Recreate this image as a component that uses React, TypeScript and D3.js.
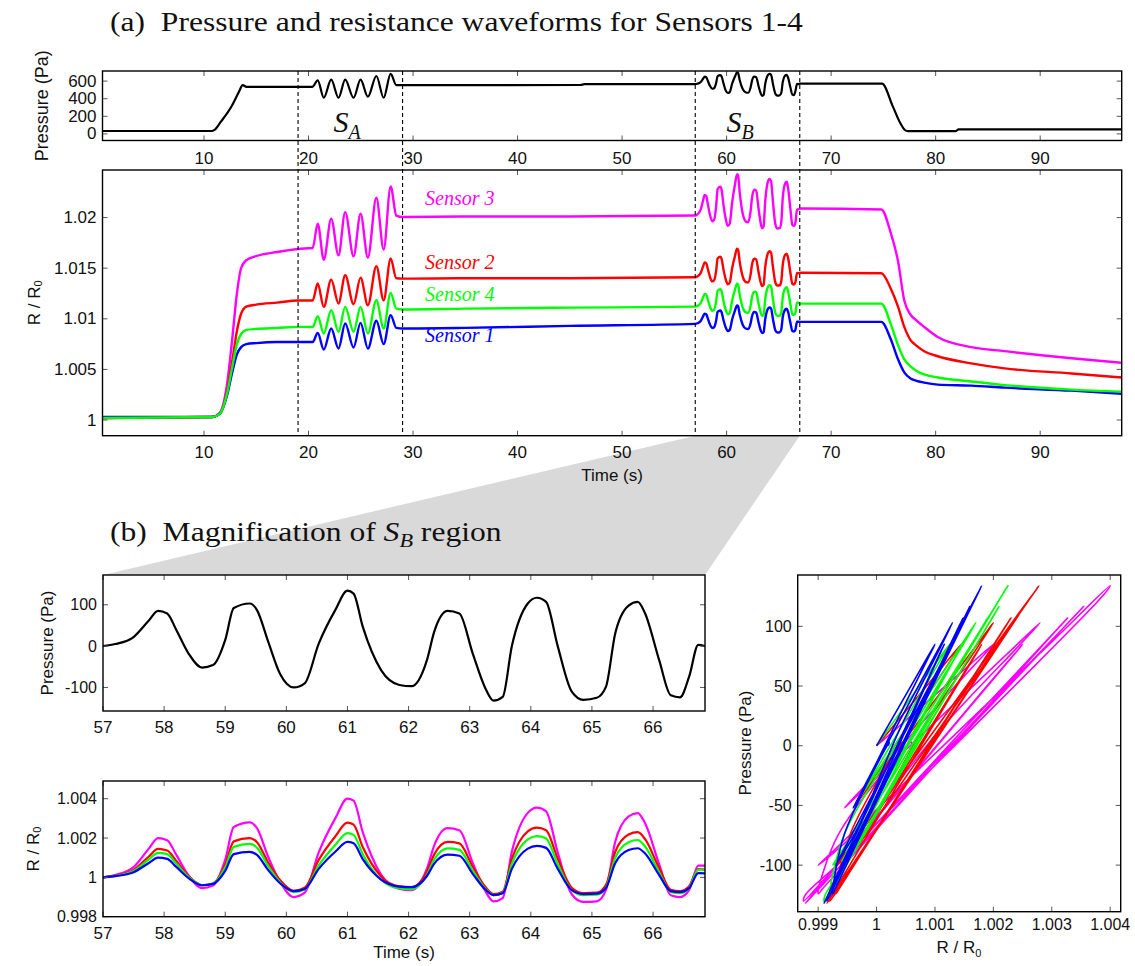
import React from "react";
import * as d3 from "d3";

// ================= DATA =================
// (a) top panel: pressure (Pa) vs time (s), outside the S_B window
const pressPreT = [0.3, 10.75, 11.0, 11.6, 12.67, 13.37, 13.7, 14.07, 20.35, 20.88, 21.46, 22.17, 22.87, 23.51, 24.31, 24.98, 25.68, 26.49, 27.19, 27.86, 28.4, 29, 46, 46.4];
const pressPreP = [33, 33, 45, 136, 320, 485, 555, 534, 534, 608, 411, 616, 411, 616, 411, 616, 423, 658, 411, 682, 555, 555, 556, 565];
const pressPostT = [67.0, 74.87, 75.9, 76.6, 77.1, 77.4, 81.9, 82.2, 97.8];
const pressPostP = [571, 571, 313, 127, 40, 31, 31, 52, 52];
const sbPressureLevel = 565;

// (a) main panel: R/R0 per sensor outside the S_B window
const rPreT = [0.3, 10.8, 11.5, 12.2, 12.7, 13.15, 13.55, 14.05, 15, 17, 19, 20.4, 20.88, 21.46, 22.17, 22.87, 23.51, 24.31, 24.98, 25.68, 26.49, 27.19, 27.86, 28.4, 29, 35, 45];
const s1Pre = [1.0003, 1.0003, 1.0006, 1.0024, 1.0047, 1.0065, 1.0072, 1.0075, 1.0076, 1.0077, 1.0077, 1.0077, 1.00861, 1.00697, 1.00904, 1.00707, 1.00954, 1.00717, 1.0096, 1.00707, 1.0098, 1.0075, 1.01036, 1.0091, 1.00904, 1.0091, 1.0093];
const s2Pre = [1.0002, 1.0003, 1.0006, 1.0028, 1.0058, 1.0088, 1.0105, 1.0112, 1.0114, 1.0116, 1.0118, 1.0118, 1.01348, 1.01118, 1.01387, 1.01151, 1.0143, 1.01144, 1.01407, 1.01134, 1.01519, 1.01183, 1.01595, 1.014, 1.01397, 1.014, 1.014];
const s3Pre = [1.0002, 1.0003, 1.0007, 1.0035, 1.008, 1.0125, 1.015, 1.0158, 1.0162, 1.0166, 1.0169, 1.017, 1.0194, 1.01584, 1.01988, 1.01627, 1.02054, 1.01617, 1.02038, 1.01605, 1.02196, 1.01684, 1.02308, 1.0202, 1.02005, 1.0201, 1.0201];
const s4Pre = [1.0002, 1.0003, 1.0006, 1.0026, 1.0052, 1.0075, 1.0085, 1.0089, 1.009, 1.0091, 1.0092, 1.0092, 1.01026, 1.00855, 1.01085, 1.00871, 1.01118, 1.00871, 1.01118, 1.00855, 1.01183, 1.00904, 1.01256, 1.011, 1.01092, 1.011, 1.0111];

const rPostT = [67.1, 74.8, 75.7, 76.4, 77.0, 77.6, 78.1, 78.9, 80.2, 83.4, 86.6, 93, 97.8];
const s1Post = [1.0097, 1.0097, 1.008, 1.006, 1.0047, 1.0041, 1.0039, 1.0037, 1.0035, 1.0034, 1.0032, 1.0029, 1.0026];
const s2Post = [1.01455, 1.0145, 1.013, 1.0112, 1.0092, 1.0079, 1.0074, 1.0068, 1.0063, 1.0056, 1.0051, 1.0046, 1.0042];
const s3Post = [1.0209, 1.0208, 1.0185, 1.0157, 1.0118, 1.0104, 1.0099, 1.0092, 1.0082, 1.0072, 1.0068, 1.0061, 1.00565];
const s4Post = [1.0115, 1.0115, 1.0095, 1.0074, 1.006, 1.0053, 1.0049, 1.0045, 1.0042, 1.0038, 1.00345, 1.003, 1.0028];

// R/R0 of each sensor at t = 57 s (start of S_B), sensors 1..4
const sbBaseline = [1.0095, 1.0141, 1.0202, 1.0112];

// (b) magnified S_B region
const sbT = [57.0, 57.2, 57.5, 57.75, 57.9, 58.05, 58.2, 58.4, 58.62, 58.8, 59.0, 59.14, 59.4, 59.52, 59.7, 59.9, 60.12, 60.3, 60.53, 60.8, 61.0, 61.1, 61.25, 61.55, 61.85, 62.05, 62.3, 62.42, 62.64, 62.83, 63.05, 63.25, 63.39, 63.54, 63.69, 63.95, 64.1, 64.25, 64.44, 64.67, 64.86, 65.08, 65.23, 65.38, 65.6, 65.75, 65.87, 66.1, 66.29, 66.44, 66.59, 66.74, 66.85];
const sbP = [0, 5, 22, 62, 85, 79, 39, -18, -52, -46, 15, 92, 103, 87, 12, -68, -100, -90, 6, 87, 134, 127, 47, -58, -94, -97, -34, 35, 85, 79, -18, -100, -132, -123, 0, 103, 117, 107, 0, -110, -130, -125, -98, 30, 98, 107, 79, -34, -119, -124, -74, 3, 0];
const sbS1 = [1.0, 1.00006, 1.00026, 1.00073, 1.001, 1.00094, 1.00053, 0.99996, 0.9996, 0.99967, 1.00033, 1.00118, 1.0013, 1.00114, 1.00038, 0.99969, 0.9993, 0.99941, 1.00043, 1.0013, 1.0018, 1.00173, 1.00093, 0.99989, 0.99953, 0.9995, 1.00007, 1.0007, 1.00116, 1.0011, 1.00018, 0.9994, 0.9991, 0.99919, 1.00043, 1.00146, 1.0016, 1.0015, 1.00044, 0.99935, 0.99915, 0.99917, 0.99946, 1.00072, 1.00139, 1.00148, 1.00121, 1.00012, 0.9993, 0.99925, 0.99945, 1.00022, 1.0002];
const sbS2 = [1.0, 1.00009, 1.00038, 1.00106, 1.00145, 1.00137, 1.00083, 1.00007, 0.9996, 0.99969, 1.00064, 1.00183, 1.002, 1.00179, 1.00077, 0.99985, 0.99932, 0.99947, 1.00089, 1.00208, 1.00278, 1.00268, 1.00154, 1.00005, 0.99954, 0.9995, 1.0003, 1.00117, 1.0018, 1.00173, 1.00054, 0.99954, 0.99915, 0.99927, 1.00094, 1.00234, 1.00253, 1.0024, 1.00095, 0.99947, 0.9992, 0.99922, 0.99962, 1.00129, 1.00218, 1.0023, 1.00194, 1.00047, 0.99937, 0.9993, 0.99955, 1.00042, 1.0004];
const sbS3 = [1.0, 1.00012, 1.00052, 1.00146, 1.002, 1.00189, 1.00114, 1.0001, 0.99945, 0.99958, 1.0009, 1.00256, 1.0028, 1.0025, 1.00106, 0.99975, 0.999, 0.99922, 1.00127, 1.003, 1.004, 1.0039, 1.0023, 1.00014, 0.99941, 0.99935, 1.00044, 1.00163, 1.0025, 1.0024, 1.00073, 0.99933, 0.99878, 0.99895, 1.00131, 1.00328, 1.00355, 1.00336, 1.00127, 0.99914, 0.99875, 0.99878, 0.99936, 1.0018, 1.0031, 1.00327, 1.00275, 1.00067, 0.99909, 0.999, 0.99935, 1.0006, 1.0006];
const sbS4 = [1.0, 1.00007, 1.00032, 1.00091, 1.00125, 1.00118, 1.0007, 1.00002, 0.9996, 0.99968, 1.00051, 1.00155, 1.0017, 1.00151, 1.00058, 0.99973, 0.99925, 0.99938, 1.00061, 1.00165, 1.00225, 1.00216, 1.00118, 0.99988, 0.99944, 0.9994, 1.00012, 1.0009, 1.00147, 1.0014, 1.00034, 0.99945, 0.9991, 0.99921, 1.00069, 1.00193, 1.0021, 1.00198, 1.00068, 0.99934, 0.9991, 0.99912, 0.99948, 1.00099, 1.00179, 1.0019, 1.00157, 1.00025, 0.99926, 0.9992, 0.99945, 1.0004, 1.00038];

const sensorNames = ["Sensor 1", "Sensor 2", "Sensor 3", "Sensor 4"];
const sensorColors = ["#0000ff", "#ff0000", "#ff00ff", "#00ff00"];

// ticks
const timeTicks = [10, 20, 30, 40, 50, 60, 70, 80, 90];
const pressTicks = [0, 200, 400, 600];
const rMainTicks = [1, 1.005, 1.01, 1.015, 1.02];
const rMainTickLabels = ["1", "1.005", "1.01", "1.015", "1.02"];
const sbTimeTicks = [57, 58, 59, 60, 61, 62, 63, 64, 65, 66];
const sbPressTicks = [-100, 0, 100];
const sbRTicks = [0.998, 1, 1.002, 1.004];
const sbRTickLabels = ["0.998", "1", "1.002", "1.004"];
const scatXTicks = [0.999, 1, 1.001, 1.002, 1.003, 1.004];
const scatXTickLabels = ["0.999", "1", "1.001", "1.002", "1.003", "1.004"];
const scatYTicks = [-100, -50, 0, 50, 100];
const dashedTimes = [19, 29, 57, 67];

// ================= LAYOUT =================
const SANS = "'Liberation Sans', Arial, sans-serif";
const SERIF = "'Liberation Serif', 'Times New Roman', serif";

const xA = d3.scaleLinear().domain([0.29, 97.8]).range([102.5, 1121.7]);
const yTopP = d3.scaleLinear().domain([-75, 715]).range([140.5, 71]);
const yMain = d3.scaleLinear().domain([0.99845, 1.0247]).range([435.7, 170]);
const xB = d3.scaleLinear().domain([57, 66.85]).range([103, 705]);
const yBP = d3.scaleLinear().domain([-157, 172]).range([711, 575]);
const yBR = d3.scaleLinear().domain([0.998, 1.0049]).range([916.7, 781]);
const xS = d3.scaleLinear().domain([0.99865, 1.00418]).range([797.7, 1120.7]);
const yS = d3.scaleLinear().domain([-139, 143]).range([911.7, 575]);

const TICK = 5;

type Sc = d3.ScaleLinear<number, number>;

function Axes(props: {
  xs: Sc; ys: Sc; xt: number[]; xl?: string[]; yt: number[]; yl?: string[];
  fx: number; fy: number; xLabY: number;
}) {
  const { xs, ys, xt, xl, yt, yl, fx, fy, xLabY } = props;
  const [x0, x1] = xs.range();
  const [y0, y1] = ys.range();
  return (
    <g>
      {xt.map((t, i) => (
        <g key={"x" + i}>
          <line x1={xs(t)} x2={xs(t)} y1={y0} y2={y0 - TICK} stroke="#555" strokeWidth={1} />
          <line x1={xs(t)} x2={xs(t)} y1={y1} y2={y1 + TICK} stroke="#555" strokeWidth={1} />
          <text x={xs(t)} y={xLabY} textAnchor="middle" fontFamily={SANS} fontSize={fx} fill="#111">
            {xl ? xl[i] : String(t)}
          </text>
        </g>
      ))}
      {yt.map((t, i) => (
        <g key={"y" + i}>
          <line x1={x0} x2={x0 + TICK} y1={ys(t)} y2={ys(t)} stroke="#555" strokeWidth={1} />
          <line x1={x1} x2={x1 - TICK} y1={ys(t)} y2={ys(t)} stroke="#555" strokeWidth={1} />
          <text x={x0 - 6} y={ys(t)} textAnchor="end" dominantBaseline="central" fontFamily={SANS} fontSize={fy} fill="#111">
            {yl ? yl[i] : String(t)}
          </text>
        </g>
      ))}
      <rect x={x0} y={y1} width={x1 - x0} height={y0 - y1} fill="none" stroke="#000" strokeWidth={1.4} />
    </g>
  );
}

function clipRect(id: string, xs: Sc, ys: Sc) {
  const [x0, x1] = xs.range();
  const [y0, y1] = ys.range();
  return (
    <clipPath id={id}>
      <rect x={x0} y={y1} width={x1 - x0} height={y0 - y1} />
    </clipPath>
  );
}

export default function App() {
  const mono = d3.curveMonotoneX;

  const topPts: [number, number][] = [
    ...pressPreT.map((t, i) => [t, pressPreP[i]] as [number, number]),
    ...sbT.map((t, i) => [t, sbPressureLevel + sbP[i]] as [number, number]),
    ...pressPostT.map((t, i) => [t, pressPostP[i]] as [number, number]),
  ];
  const topLine = d3.line<[number, number]>().x((d) => xA(d[0])).y((d) => yTopP(d[1])).curve(mono);

  const pre = [s1Pre, s2Pre, s3Pre, s4Pre];
  const post = [s1Post, s2Post, s3Post, s4Post];
  const sb = [sbS1, sbS2, sbS3, sbS4];
  const mainLine = d3.line<[number, number]>().x((d) => xA(d[0])).y((d) => yMain(d[1])).curve(mono);
  const mainPaths = [0, 1, 2, 3].map((k) => {
    const pts: [number, number][] = [
      ...rPreT.map((t, i) => [t, pre[k][i]] as [number, number]),
      ...sbT.map((t, i) => [t, sbBaseline[k] * sb[k][i]] as [number, number]),
      ...rPostT.map((t, i) => [t, post[k][i]] as [number, number]),
    ];
    return mainLine(pts) || "";
  });

  const bpLine = d3.line<number>().x((_, i) => xB(sbT[i])).y((d) => yBP(d)).curve(mono);
  const brLine = d3.line<number>().x((_, i) => xB(sbT[i])).y((d) => yBR(d)).curve(mono);
  const scLine = d3.line<number>().x((d) => xS(d)).y((_, i) => yS(sbP[i])).curve(d3.curveCatmullRom.alpha(0.5));

  const drawOrderMain = [2, 1, 0, 3];
  const drawOrderB = [2, 1, 3, 0];
  const drawOrderS = [2, 1, 3, 0];

  const [mainB] = yMain.range();
  const [bl, br] = xB.range();
  const [, bTop] = yBP.range();
  const wedge = `${xA(57)},${mainB} ${xA(67)},${mainB} ${br},${bTop} ${bl},${bTop}`;

  const labelSensor: { k: number; v: number }[] = [
    { k: 2, v: 1.0212 },
    { k: 1, v: 1.0149 },
    { k: 3, v: 1.0118 },
    { k: 0, v: 1.0077 },
  ];

  return (
    <svg width={1135} height={966} style={{ display: "block", background: "#fff", position: "absolute", left: 0, top: 0 }}>
      <defs>
        {clipRect("cTop", xA, yTopP)}
        {clipRect("cMain", xA, yMain)}
        {clipRect("cBP", xB, yBP)}
        {clipRect("cBR", xB, yBR)}
        {clipRect("cS", xS, yS)}
      </defs>
      <rect x={0} y={0} width={1135} height={966} fill="#fff" />

      {/* magnification wedge */}
      <polygon points={wedge} fill="#d9d9d9" />

      {/* Titles */}
      <g transform="translate(110,31) scale(1.17,1)">
        <text x={0} y={0} fontFamily={SERIF} fontSize={27} fill="#111" style={{ whiteSpace: "pre" }}>
          (a)  Pressure and resistance waveforms for Sensors 1-4
        </text>
      </g>
      <g transform="translate(110,541) scale(1.17,1)">
        <text x={0} y={0} fontFamily={SERIF} fontSize={27} fill="#111" style={{ whiteSpace: "pre" }}>
          (b)  Magnification of <tspan fontStyle="italic">S</tspan>
          <tspan fontStyle="italic" fontSize={19} dy={6}>B</tspan>
          <tspan dy={-6}> region</tspan>
        </text>
      </g>

      {/* ===== top pressure panel ===== */}
      <g clipPath="url(#cTop)">
        <path d={topLine(topPts) || ""} fill="none" stroke="#000" strokeWidth={2.2} />
      </g>
      <Axes xs={xA} ys={yTopP} xt={timeTicks} yt={pressTicks} fx={17} fy={17} xLabY={164} />
      <text transform={`translate(42,${(71 + 140.5) / 2}) rotate(-90)`} textAnchor="middle" dominantBaseline="central" fontFamily={SANS} fontSize={18} fill="#111">
        Pressure (Pa)
      </text>

      {/* S_A and S_B labels */}
      <text x={xA(22.4)} y={132} fontFamily={SERIF} fontStyle="italic" fontSize={30} fill="#111">
        S<tspan fontSize={20} dy={7}>A</tspan>
      </text>
      <text x={xA(60.0)} y={132} fontFamily={SERIF} fontStyle="italic" fontSize={30} fill="#111">
        S<tspan fontSize={20} dy={7}>B</tspan>
      </text>

      {/* ===== main R/R0 panel ===== */}
      <g clipPath="url(#cMain)">
        {drawOrderMain.map((k) => (
          <path key={k} d={mainPaths[k]} fill="none" stroke={sensorColors[k]} strokeWidth={2.4} />
        ))}
      </g>
      <Axes xs={xA} ys={yMain} xt={timeTicks} yt={rMainTicks} yl={rMainTickLabels} fx={17} fy={17} xLabY={458} />
      {labelSensor.map((s) => (
        <text key={s.k} x={425} y={yMain(s.v)} fontFamily={SERIF} fontStyle="italic" fontSize={20} fill={sensorColors[s.k]}>
          {sensorNames[s.k]}
        </text>
      ))}
      <text transform={`translate(34,${(170 + 435.7) / 2}) rotate(-90)`} textAnchor="middle" dominantBaseline="central" fontFamily={SANS} fontSize={17} fill="#111">
        R / R<tspan fontSize={11} dy={4}>0</tspan>
      </text>
      <text x={(102.5 + 1121.7) / 2} y={481} textAnchor="middle" fontFamily={SANS} fontSize={17} fill="#111">
        Time (s)
      </text>

      {/* dashed markers */}
      {dashedTimes.map((t) => (
        <line key={t} x1={xA(t)} x2={xA(t)} y1={71} y2={435.7} stroke="#000" strokeWidth={1.1} strokeDasharray="4,3" />
      ))}

      {/* ===== (b) pressure ===== */}
      <g clipPath="url(#cBP)">
        <path d={bpLine(sbP) || ""} fill="none" stroke="#000" strokeWidth={2.2} />
      </g>
      <Axes xs={xB} ys={yBP} xt={sbTimeTicks} yt={sbPressTicks} fx={17} fy={16} xLabY={733} />
      <text transform={`translate(47,643) rotate(-90)`} textAnchor="middle" dominantBaseline="central" fontFamily={SANS} fontSize={17} fill="#111">
        Pressure (Pa)
      </text>

      {/* ===== (b) R/R0 ===== */}
      <g clipPath="url(#cBR)">
        {drawOrderB.map((k) => (
          <path key={k} d={brLine(sb[k]) || ""} fill="none" stroke={sensorColors[k]} strokeWidth={2.2} />
        ))}
      </g>
      <Axes xs={xB} ys={yBR} xt={sbTimeTicks} yt={sbRTicks} yl={sbRTickLabels} fx={17} fy={16} xLabY={939} />
      <text transform={`translate(33,849) rotate(-90)`} textAnchor="middle" dominantBaseline="central" fontFamily={SANS} fontSize={17} fill="#111">
        R / R<tspan fontSize={11} dy={4}>0</tspan>
      </text>
      <text x={404} y={958} textAnchor="middle" fontFamily={SANS} fontSize={17} fill="#111">
        Time (s)
      </text>

      {/* ===== scatter ===== */}
      <g clipPath="url(#cS)">
        {drawOrderS.map((k) => (
          <path key={k} d={scLine(sb[k]) || ""} fill="none" stroke={sensorColors[k]} strokeWidth={1.6} />
        ))}
      </g>
      <Axes xs={xS} ys={yS} xt={scatXTicks} xl={scatXTickLabels} yt={scatYTicks} fx={16} fy={16} xLabY={930} />
      <text transform={`translate(745,743) rotate(-90)`} textAnchor="middle" dominantBaseline="central" fontFamily={SANS} fontSize={17} fill="#111">
        Pressure (Pa)
      </text>
      <text x={959} y={953} textAnchor="middle" fontFamily={SANS} fontSize={17} fill="#111">
        R / R<tspan fontSize={11} dy={4}>0</tspan>
      </text>
    </svg>
  );
}
